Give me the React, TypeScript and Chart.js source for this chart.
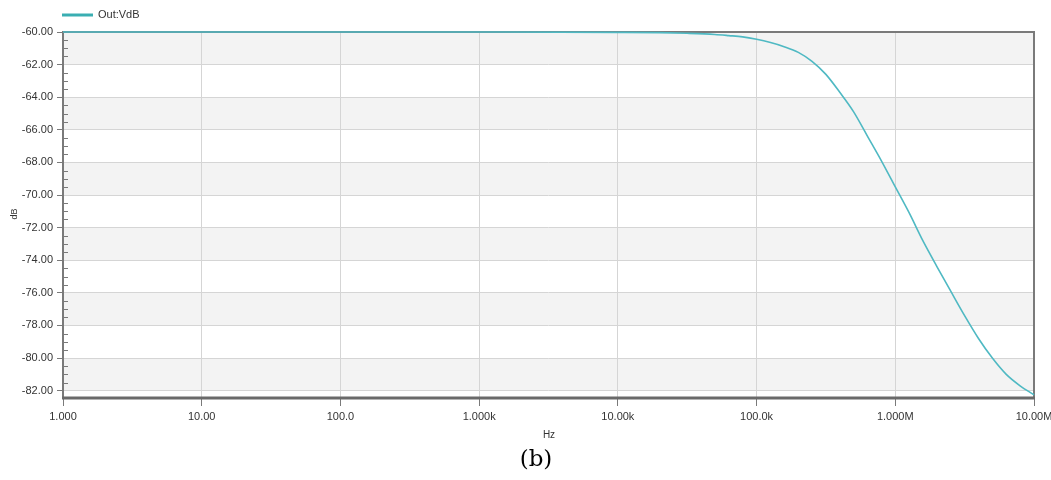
import React, { useEffect, useRef } from 'react';
import { Chart, registerables } from 'chart.js';

Chart.register(...registerables);

const seriesName = 'Out:VdB';
const xTitle = 'Hz';
const yTitle = 'dB';
const caption = '(b)';

const freqHz = [
  1, 10, 100, 1000, 10000, 20000, 31600, 50000, 63100, 79400,
  100000, 126000, 158000, 200000, 251000, 316000, 398000, 501000, 631000, 794000,
  1000000, 1260000, 1580000, 2000000, 2510000, 3160000, 3980000, 5010000, 6310000, 7940000,
  10000000,
];
const outVdB = [
  -60, -60, -60, -60, -60.02, -60.04, -60.08, -60.15, -60.22, -60.3,
  -60.45, -60.65, -60.9, -61.25, -61.8, -62.6, -63.7, -64.9, -66.4, -67.9,
  -69.5, -71.1, -72.8, -74.4, -75.9, -77.4, -78.8, -80.0, -81.0, -81.7,
  -82.25,
];

const xTickValues = [1, 10, 100, 1000, 10000, 100000, 1000000, 10000000];
const xTickLabels = ['1.000', '10.00', '100.0', '1.000k', '10.00k', '100.0k', '1.000M', '10.00M'];
const yTickValues = [-60, -62, -64, -66, -68, -70, -72, -74, -76, -78, -80, -82];
const yTickLabels = ['-60.00', '-62.00', '-64.00', '-66.00', '-68.00', '-70.00', '-72.00', '-74.00', '-76.00', '-78.00', '-80.00', '-82.00'];

const Y_MIN = -82.45;
const Y_MAX = -60;

const FONT = "'Liberation Sans Narrow', 'Liberation Sans', Arial, sans-serif";
const LINE_COLOR = '#4fb9c3';

const decorPlugin = {
  id: 'decor',
  beforeDraw(chart: any) {
    const { ctx, chartArea, scales } = chart;
    const y = scales.y;
    ctx.save();
    ctx.fillStyle = '#ffffff';
    ctx.fillRect(0, 0, chart.width, chart.height);
    ctx.fillStyle = '#f3f3f3';
    for (let i = 0; i < yTickValues.length - 1; i += 2) {
      const y1 = y.getPixelForValue(yTickValues[i]);
      const y2 = y.getPixelForValue(yTickValues[i + 1]);
      ctx.fillRect(chartArea.left, y1, chartArea.right - chartArea.left, y2 - y1);
    }
    ctx.restore();
  },
  beforeDatasetsDraw(chart: any) {
    const { ctx, chartArea, scales } = chart;
    const y = scales.y;
    ctx.save();
    ctx.strokeStyle = '#7a7a7a';
    ctx.lineWidth = 1;
    for (let i = 0; i < yTickValues.length; i++) {
      const base = yTickValues[i];
      for (let k = 1; k <= 3; k++) {
        const v = base - k * 0.5;
        if (v < Y_MIN) continue;
        const py = Math.round(y.getPixelForValue(v)) + 0.5;
        ctx.beginPath();
        ctx.moveTo(chartArea.left, py);
        ctx.lineTo(chartArea.left + 5, py);
        ctx.stroke();
      }
    }
    ctx.strokeStyle = '#7a7a7a';
    ctx.lineWidth = 2;
    ctx.strokeRect(chartArea.left, chartArea.top, chartArea.right - chartArea.left, chartArea.bottom - chartArea.top);
    ctx.strokeStyle = '#6a6a6a';
    ctx.lineWidth = 3;
    ctx.beginPath();
    ctx.moveTo(chartArea.left - 1, chartArea.bottom);
    ctx.lineTo(chartArea.right + 1, chartArea.bottom);
    ctx.stroke();
    ctx.restore();
  },
  afterDraw(chart: any) {
    const { ctx } = chart;
    ctx.save();
    ctx.strokeStyle = '#3aaeb2';
    ctx.lineWidth = 3;
    ctx.beginPath();
    ctx.moveTo(62, 15);
    ctx.lineTo(93, 15);
    ctx.stroke();
    ctx.fillStyle = '#333333';
    ctx.font = `11px ${FONT}`;
    ctx.textAlign = 'left';
    ctx.textBaseline = 'middle';
    ctx.fillText(seriesName, 98, 15);
    ctx.font = `10px ${FONT}`;
    ctx.textAlign = 'center';
    ctx.fillText(xTitle, 549, 435);
    ctx.translate(15, 214);
    ctx.rotate(-Math.PI / 2);
    ctx.font = `9px ${FONT}`;
    ctx.fillText(yTitle, 0, 0);
    ctx.restore();
  },
};

export default function App() {
  const canvasRef = useRef<HTMLCanvasElement | null>(null);

  useEffect(() => {
    document.body.style.margin = '0';
    const canvas = canvasRef.current;
    if (!canvas) return;
    const chart = new Chart(canvas, {
      type: 'line',
      data: {
        datasets: [
          {
            label: seriesName,
            data: freqHz.map((f, i) => ({ x: f, y: outVdB[i] })),
            borderColor: LINE_COLOR,
            borderWidth: 1.6,
            pointRadius: 0,
            fill: false,
            cubicInterpolationMode: 'monotone',
            clip: 3,
          } as any,
        ],
      },
      options: {
        animation: false,
        responsive: false,
        maintainAspectRatio: false,
        layout: { padding: { left: 0, right: 17, top: 32, bottom: 0 } },
        plugins: {
          legend: { display: false },
          tooltip: { enabled: false },
        },
        scales: {
          x: {
            type: 'logarithmic',
            min: 1,
            max: 10000000,
            afterBuildTicks: (scale: any) => {
              scale.ticks = xTickValues.map((v) => ({ value: v }));
            },
            afterFit: (scale: any) => {
              scale.height = 480 - 398;
              scale.paddingLeft = 0;
              scale.paddingRight = 0;
            },
            border: { display: false },
            grid: {
              color: '#d5d5d5',
              tickColor: '#7a7a7a',
              tickLength: 8,
              lineWidth: 1,
            },
            ticks: {
              autoSkip: false,
              maxRotation: 0,
              padding: 4,
              color: '#333333',
              font: { family: FONT, size: 11 },
              callback: (value: any) => {
                const idx = xTickValues.indexOf(Number(value));
                return idx >= 0 ? xTickLabels[idx] : '';
              },
            },
          },
          y: {
            type: 'linear',
            min: Y_MIN,
            max: Y_MAX,
            afterBuildTicks: (scale: any) => {
              scale.ticks = yTickValues.map((v) => ({ value: v }));
            },
            afterFit: (scale: any) => {
              scale.width = 63;
              scale.paddingTop = 0;
              scale.paddingBottom = 0;
            },
            border: { display: false },
            grid: {
              color: '#d5d5d5',
              tickColor: '#7a7a7a',
              tickLength: 6,
              lineWidth: 1,
            },
            ticks: {
              autoSkip: false,
              padding: 4,
              color: '#333333',
              font: { family: FONT, size: 11 },
              callback: (value: any) => {
                const idx = yTickValues.indexOf(Number(value));
                return idx >= 0 ? yTickLabels[idx] : '';
              },
            },
          },
        },
      },
      plugins: [decorPlugin],
    });
    return () => chart.destroy();
  }, []);

  return (
    <div style={{ position: 'relative', width: 1051, height: 480, background: '#fff' }}>
      <canvas ref={canvasRef} width={1051} height={480} style={{ display: 'block', width: 1051, height: 480 }} />
      <div
        style={{
          position: 'absolute',
          left: 0,
          width: 1072,
          top: 444,
          textAlign: 'center',
          fontFamily: "'DejaVu Serif', 'Liberation Serif', serif",
          fontSize: 23,
          color: '#000',
          lineHeight: '28px',
        }}
      >
        {caption}
      </div>
    </div>
  );
}
